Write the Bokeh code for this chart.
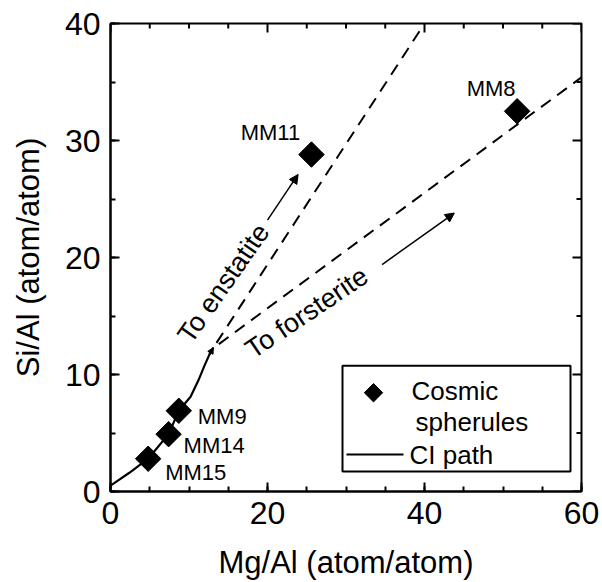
import math
from bokeh.plotting import figure
from bokeh.models import (Range1d, LinearAxis, SingleIntervalTicker, Arrow, NormalHead,
                          Label, BoxAnnotation, ColumnDataSource)
from bokeh.core.properties import value
from bokeh.embed import file_html
from bokeh.resources import INLINE

# ---------------- data ----------------
sample_names = ["MM15", "MM14", "MM9", "MM11", "MM8"]
mg_al = [4.8, 7.4, 8.7, 25.6, 51.8]
si_al = [2.8, 4.9, 6.9, 28.8, 32.5]

ci_path_mg = [0.0, 2.4, 4.8, 7.4, 8.7, 10.2, 11.2, 12.0, 12.6, 13.1]
ci_path_si = [0.5, 1.6, 2.8, 4.9, 6.9, 8.1, 9.5, 10.8, 11.7, 12.3]

enstatite_mg = [13.5, 40.0]
enstatite_si = [12.7, 40.0]
forsterite_mg = [13.8, 60.0]
forsterite_si = [12.6, 35.4]

x_range_vals = (0, 60)
y_range_vals = (0, 40)
x_tick_step, x_minor_step = 20, 5
y_tick_step, y_minor_step = 10, 5

# ---------------- layout / style ----------------
W, H = 602, 582
FL, FR, FT, FB = 110, 581, 23, 492
FONT = "Liberation Sans"
MAJOR_IN, MINOR_IN = 9, 5

def px2x(px):
    return x_range_vals[0] + (px - FL) / (FR - FL) * (x_range_vals[1] - x_range_vals[0])

def py2y(py):
    return y_range_vals[0] + (FB - py) / (FB - FT) * (y_range_vals[1] - y_range_vals[0])

dx_per_px = (x_range_vals[1] - x_range_vals[0]) / (FR - FL)
dy_per_px = (y_range_vals[1] - y_range_vals[0]) / (FB - FT)

p = figure(width=W, height=H, output_backend="svg", toolbar_location=None,
           x_range=Range1d(*x_range_vals), y_range=Range1d(*y_range_vals),
           min_border_left=FL, min_border_right=W - FR, min_border_top=FT,
           min_border_bottom=H - FB, x_axis_location=None, y_axis_location=None)
p.grid.visible = False
p.outline_line_color = "black"
p.outline_line_width = 2
p.background_fill_color = "white"
p.border_fill_color = "white"

def make_axis(interval, minor, label, label_standoff):
    ax = LinearAxis(ticker=SingleIntervalTicker(interval=interval, num_minor_ticks=minor))
    ax.axis_line_width = 2
    ax.axis_line_color = "black"
    ax.major_tick_line_width = 2
    ax.minor_tick_line_width = 2
    ax.major_tick_line_color = "black"
    ax.minor_tick_line_color = "black"
    ax.major_tick_in = MAJOR_IN
    ax.major_tick_out = 0
    ax.minor_tick_in = MINOR_IN
    ax.minor_tick_out = 0
    ax.major_label_text_font = FONT
    ax.major_label_text_font_size = "32px"
    ax.major_label_text_color = "black"
    ax.major_label_standoff = 10
    ax.axis_label = label
    ax.axis_label_text_font = FONT
    ax.axis_label_text_font_size = "31px"
    ax.axis_label_text_font_style = "normal"
    ax.axis_label_text_color = "black"
    ax.axis_label_standoff = label_standoff
    return ax

p.add_layout(make_axis(x_tick_step, x_tick_step // x_minor_step, "Mg/Al (atom/atom)", 18), "below")
p.add_layout(make_axis(y_tick_step, y_tick_step // y_minor_step, "Si/Al (atom/atom)", 16), "left")

# ticks on top and right frame edges (no labels)
top_x = list(range(x_range_vals[0], x_range_vals[1] + 1, x_minor_step))
top_len = [MAJOR_IN if v % x_tick_step == 0 else MINOR_IN for v in top_x]
p.segment(x0=top_x, y0=[y_range_vals[1]] * len(top_x), x1=top_x,
          y1=[y_range_vals[1] - L * dy_per_px for L in top_len],
          line_color="black", line_width=2)
right_y = list(range(y_range_vals[0], y_range_vals[1] + 1, y_minor_step))
right_len = [MAJOR_IN if v % y_tick_step == 0 else MINOR_IN for v in right_y]
p.segment(x0=[x_range_vals[1]] * len(right_y), y0=right_y,
          x1=[x_range_vals[1] - L * dx_per_px for L in right_len], y1=right_y,
          line_color="black", line_width=2)

# dashed extension lines
p.line(enstatite_mg, enstatite_si, line_color="black", line_width=2, line_dash="12 8")
p.line(forsterite_mg, forsterite_si, line_color="black", line_width=2, line_dash="12 8")

# CI path
p.line(ci_path_mg, ci_path_si, line_color="black", line_width=2.2)
p.add_layout(Arrow(end=NormalHead(size=6, fill_color="black", line_color="black"),
                   x_start=ci_path_mg[-2], y_start=ci_path_si[-2],
                   x_end=ci_path_mg[-1], y_end=ci_path_si[-1],
                   line_width=2, line_color="black"))

# points
p.scatter(mg_al, si_al, marker="square", angle=math.pi / 4, size=18,
          fill_color="black", line_color="black")

# point labels
label_dx = [17, 15, 19, -41, -26]
label_dy = [14, 11, 6, -22, -23]
label_align = ["left", "left", "left", "center", "center"]
src = ColumnDataSource(dict(x=mg_al, y=si_al, t=sample_names, dx=label_dx, dy=label_dy, al=label_align))
p.text(x="x", y="y", text="t", x_offset="dx", y_offset="dy", text_align="al",
       text_baseline="middle", text_font=value(FONT), text_font_size="22px",
       text_color="black", source=src)

# direction arrows + text
p.add_layout(Arrow(end=NormalHead(size=9, fill_color="black", line_color="black"),
                   x_start=20.0, y_start=23.2, x_end=23.9, y_end=27.1,
                   line_width=1.5, line_color="black"))
p.add_layout(Arrow(end=NormalHead(size=9, fill_color="black", line_color="black"),
                   x_start=34.6, y_start=19.4, x_end=43.8, y_end=23.8,
                   line_width=1.5, line_color="black"))
p.add_layout(Label(x=14.4, y=17.8, text="To enstatite", angle=math.radians(55),
                   text_align="center", text_baseline="middle", text_font=FONT,
                   text_font_size="27px", text_color="black"))
p.add_layout(Label(x=25.0, y=15.3, text="To forsterite", angle=math.radians(34),
                   text_align="center", text_baseline="middle", text_font=FONT,
                   text_font_size="27px", text_color="black"))

# legend (drawn manually)
p.add_layout(BoxAnnotation(left=px2x(342), right=px2x(570), top=py2y(366), bottom=py2y(472),
                           fill_alpha=0, line_color="black", line_alpha=1, line_width=2))
p.scatter([px2x(373)], [py2y(393)], marker="square", angle=math.pi / 4, size=13,
          fill_color="black", line_color="black")
p.line([px2x(346), px2x(403)], [py2y(455), py2y(455)], line_color="black", line_width=2)
for txt, lx, ly in [("Cosmic", 411, 391), ("spherules", 415, 422), ("CI path", 409, 455)]:
    p.add_layout(Label(x=px2x(lx), y=py2y(ly), text=txt, text_align="left",
                       text_baseline="middle", text_font=FONT, text_font_size="26px",
                       text_color="black"))

open("out.html", "w").write(file_html(p, INLINE))
